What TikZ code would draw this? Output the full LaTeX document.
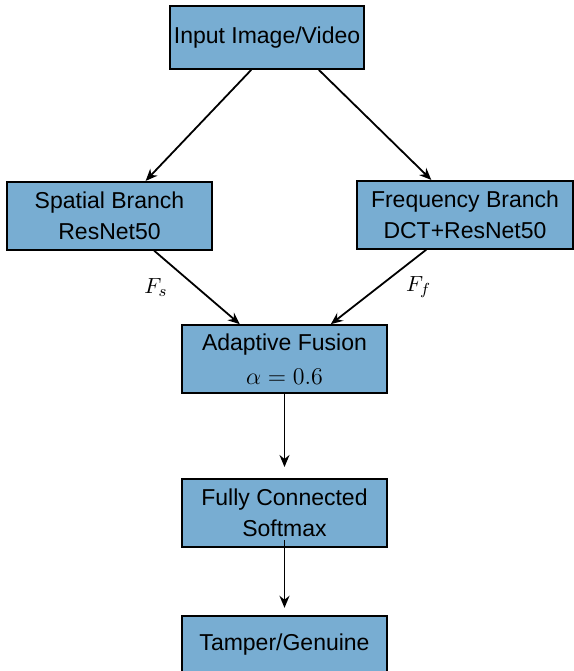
\documentclass[tikz,border=0pt]{standalone}
\usepackage{fontspec}
\setsansfont{Liberation Sans}
\usepackage{tikz}
\usetikzlibrary{arrows.meta, positioning}
\definecolor{myBlue}{RGB}{120, 173, 210}

\begin{document}
\begin{tikzpicture}[
        font=\sffamily\fontsize{11.5}{15.3}\selectfont,
        >={Stealth[length=6pt, width=5pt]},
        % Styles
        box/.style={
            draw=black, line width=0.9pt, fill=myBlue, align=center,
            minimum width=102.5pt, minimum height=34pt, inner sep=2pt
        },
        flow/.style={->, line width=0.9pt},
        feat/.style={font=\fontsize{11}{13}\selectfont}
    ]

    \useasboundingbox (0,0) rectangle (287pt,-335.5pt);

    % --- Nodes ---

    % 1. Input
    \node[box, minimum width=93pt, minimum height=31.5pt] (input) at (133.5pt,-18.75pt) {Input Image/Video};

    % 2. Two branches
    \node[box, below=55.5pt of input, xshift=-78.75pt] (spatial) {Spatial Branch\\ResNet50};
    \node[box, minimum width=108pt, below=55pt of input, xshift=99pt] (freq) {Frequency Branch\\DCT+ResNet50};

    % 3. Fusion
    \node[box, below=36.75pt of spatial, xshift=87.5pt,
          font=\sffamily\fontsize{11.5}{17}\selectfont] (fusion) {Adaptive Fusion\\$\alpha = 0.6$};

    % 4. Classifier
    \node[box, below=42pt of fusion] (fc) {Fully Connected\\Softmax};

    % 5. Output
    \node[box, minimum height=29pt, below=33.5pt of fc] (out) {Tamper/Genuine};

    % --- Arrows ---
    \draw[flow] (input.244) -- (spatial.44);
    \draw[flow] (input.328) -- (freq.134);

    \draw[flow] (spatial.322) -- node[feat, midway, left=11pt] {$F_s$} (fusion.142);
    \draw[flow] (freq.222) -- node[feat, midway, right=10pt] {$F_f$} (fusion.37);

    \draw[flow, shorten >=5.5pt] (fusion) -- (fc);
    \draw[flow, shorten <=-4pt, shorten >=3.5pt] (fc) -- (out);

\end{tikzpicture}
\end{document}
